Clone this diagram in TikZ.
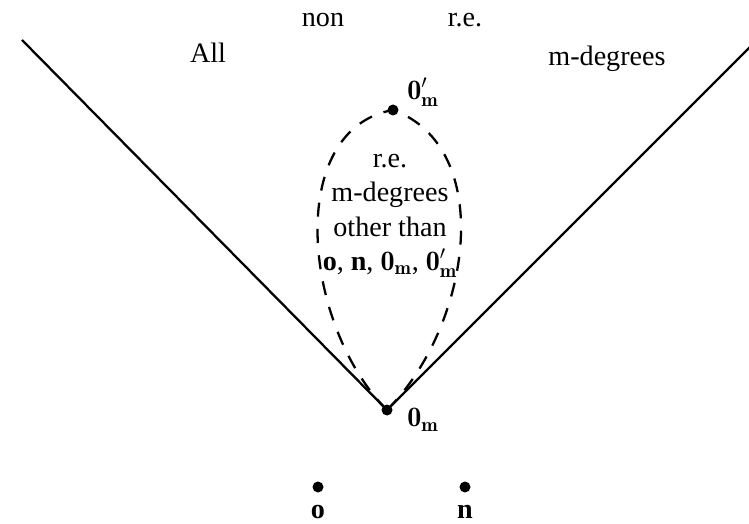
\documentclass[tikz,border=0pt]{standalone}
\usepackage{amsmath, amssymb}
\usepackage[no-math]{fontspec}
\setmainfont{Liberation Serif}
\usepackage{tikz}
\usetikzlibrary{positioning}
\newcommand{\lmb}{\fontfamily{lmr}\selectfont\bfseries}
\newcommand{\zm}{\text{\lmb 0}_{\text{\lmb m}}}
\newcommand{\zmp}{\text{\lmb 0}'_{\text{\lmb m}}}

\begin{document}
\begin{tikzpicture}[
  x=0.02cm, y=0.02cm,
  dot/.style={circle, fill=black, inner sep=0pt, minimum size=0.22cm},
  txt/.style={font=\fontsize{16}{19}\selectfont, anchor=base},
  lbl/.style={font=\fontsize{16}{19.5}\selectfont},
  edge/.style={line width=1.3pt},
  lens/.style={line width=1.3pt, dash pattern=on 8pt off 7pt}
]
  \useasboundingbox (0,0) rectangle (749,-523);

  %% Points
  \node[dot] (zm)  at (387,-410) {};
  \node[dot] (zmp) at (393,-110) {};
  \node[dot] (o)   at (318,-487) {};
  \node[dot] (n)   at (465,-487) {};
  \coordinate (lend) at (22,-40);
  \coordinate (rend) at (751,-46);

  %% The cone
  \draw[edge] (lend) -- (zm.center);
  \draw[edge] (zm.center) -- (rend);

  %% Dashed region of the r.e. degrees
  \draw[lens] (zm.center) .. controls +(135:120) and +(190:110) .. (zmp.center);
  \draw[lens] (zm.center) .. controls +(45:120) and +(-20:110) .. (zmp.center);

  %% Region labels
  \node[txt] (all) at (208,-63) {All};
  \node[txt] (non) at (323,-27) {non};
  \node[txt] (re)  at (465,-27) {r.e.};
  \node[txt] (md)  at (607,-66) {m-degrees};

  \node[lbl, align=center] (inner) at (390,-216)
    {r.e.\\ m-degrees\\ other than\\ \textbf{o}, \textbf{n}, $\zm$, $\zmp$};

  %% Point labels
  \node[lbl] at (423,-92)  {$\zmp$};
  \node[lbl] at (423,-420) {$\zm$};
  \node[lbl, below=0.12cm of o] {\textbf{o}};
  \node[lbl, below=0.12cm of n] {\textbf{n}};
\end{tikzpicture}
\end{document}
